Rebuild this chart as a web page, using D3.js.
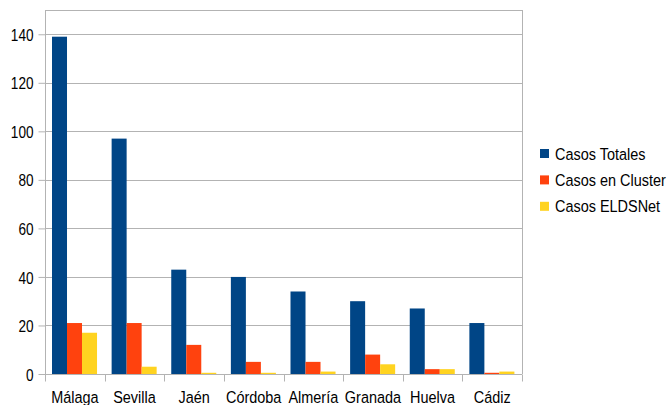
<!DOCTYPE html>
<html>
<head>
<meta charset="utf-8">
<script src="https://cdn.jsdelivr.net/npm/d3@7"></script>
<style>
  body { margin: 0; background: #fff; }
  text { font-family: "Liberation Sans", Arial, sans-serif; fill: #000; }
</style>
</head>
<body>
<script>
var width = 669;
var height = 405;

// data
var provinces = ["Málaga", "Sevilla", "Jaén", "Córdoba", "Almería", "Granada", "Huelva", "Cádiz"];
var casosTotales = [139, 97, 43, 40, 34, 30, 27, 21];
var casosCluster = [21, 21, 12, 5, 5, 8, 2, 0.5];
var casosEldsnet = [17, 3, 0.5, 0.5, 1, 4, 2, 1];
var seriesNames = ["Casos Totales", "Casos en Cluster", "Casos ELDSNet"];
var yTicks = [0, 20, 40, 60, 80, 100, 120, 140];

var colors = ["#004586", "#ff420e", "#ffd320"];

var margin = { top: 10, right: 147, bottom: 31, left: 45 };
var graphWidth = width - margin.left - margin.right;
var graphHeight = height - margin.top - margin.bottom;

// the source font is a bit condensed
var squeeze = 0.85;

var svg = d3.select("body")
            .append("svg")
            .attr("width", width)
            .attr("height", height);

var g = svg.append("g").attr("transform", `translate(${margin.left}, ${margin.top})`);

var x = d3.scaleBand().domain(provinces).range([0, graphWidth]).paddingInner(0).paddingOuter(0);
var y = d3.scaleLinear().domain([0, 150]).range([graphHeight, 0]);
var inner = d3.scaleBand().domain(seriesNames).range([7, x.bandwidth() - 7.6]);

// grid lines
g.selectAll(".grid")
 .data(yTicks.concat([150]))
 .enter().append("line")
 .attr("x1", 0).attr("x2", graphWidth)
 .attr("y1", d => Math.round(y(d)) + 0.5).attr("y2", d => Math.round(y(d)) + 0.5)
 .attr("stroke", "#b3b3b3");

// right border
g.append("line")
 .attr("x1", graphWidth + 0.5).attr("x2", graphWidth + 0.5)
 .attr("y1", 0).attr("y2", graphHeight)
 .attr("stroke", "#b3b3b3");

// bars
var table = provinces.map(function(p, i) {
  return { name: p, values: [casosTotales[i], casosCluster[i], casosEldsnet[i]] };
});

var groups = g.selectAll(".grp")
              .data(table)
              .enter().append("g")
              .attr("transform", d => `translate(${x(d.name)}, 0)`);

groups.selectAll("rect")
      .data(d => d.values.map((v, k) => ({ key: seriesNames[k], value: v, k: k })))
      .enter().append("rect")
      .attr("x", d => inner(d.key))
      .attr("width", inner.bandwidth())
      .attr("y", d => y(d.value))
      .attr("height", d => graphHeight - y(d.value))
      .attr("fill", d => colors[d.k]);

// y axis
var leftAxis = d3.axisLeft(y).tickValues(yTicks).tickSize(7).tickPadding(5);
var yg = g.append("g").attr("transform", "translate(0.5,0)").call(leftAxis);
yg.select(".domain").attr("stroke", "#b3b3b3").attr("d", `M0,0V${graphHeight}`);
yg.selectAll(".tick line").attr("stroke", "#b3b3b3");
yg.selectAll(".tick text")
  .style("font-size", "17px")
  .attr("x", 0)
  .attr("dy", "0.36em")
  .attr("transform", "translate(-12,0) scale(0.8,1)");

// x axis with ticks at category boundaries
var xg = g.append("g").attr("transform", `translate(0, ${graphHeight + 0.5})`);
xg.append("line").attr("x1", 0).attr("x2", graphWidth).attr("stroke", "#b3b3b3");
xg.selectAll(".bt")
  .data(provinces.concat(["end"]))
  .enter().append("line")
  .attr("x1", (d, i) => Math.round(i * x.step()) + 0.5)
  .attr("x2", (d, i) => Math.round(i * x.step()) + 0.5)
  .attr("y1", 0).attr("y2", 7)
  .attr("stroke", "#b3b3b3");
xg.selectAll(".lbl")
  .data(provinces)
  .enter().append("text")
  .attr("text-anchor", "middle")
  .attr("transform", d => `translate(${x(d) + x.bandwidth() / 2}, 28) scale(${squeeze},1)`)
  .style("font-size", "17px")
  .text(d => d);

// legend
var legend = svg.append("g").attr("transform", "translate(540, 153.5)");
var items = legend.selectAll(".item")
                  .data(seriesNames)
                  .enter().append("g")
                  .attr("transform", (d, i) => `translate(0, ${i * 26.4})`);
items.append("rect")
     .attr("x", 0).attr("y", -4.5)
     .attr("width", 9).attr("height", 9)
     .attr("fill", (d, i) => colors[i]);
items.append("text")
     .attr("dy", "0.36em")
     .attr("transform", `translate(15,0) scale(${squeeze},1)`)
     .style("font-size", "17px")
     .text(d => d);
</script>
</body>
</html>
